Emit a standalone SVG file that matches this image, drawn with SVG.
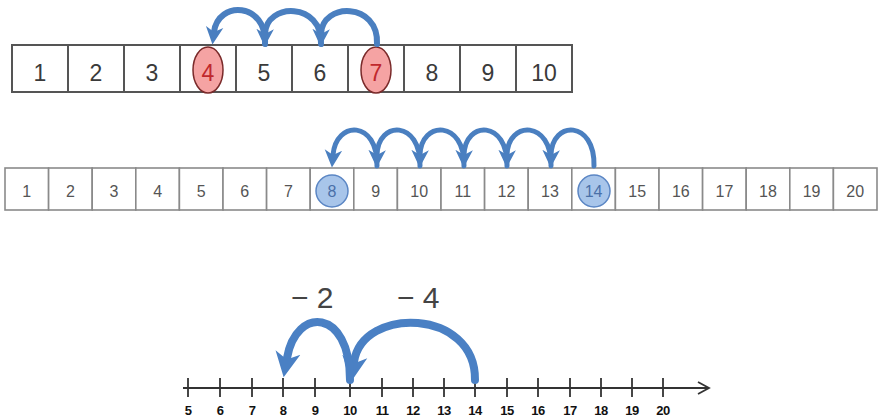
<svg xmlns="http://www.w3.org/2000/svg" width="879" height="420" viewBox="0 0 879 420">
<style>
.cell1{fill:#fff;stroke:#555;stroke-width:2}
.cell2{fill:#fff;stroke:#8a8a8a;stroke-width:1.6}
.t1{font-family:"Liberation Sans",Arial,sans-serif;font-size:23px;fill:#3a3a3a;text-anchor:middle}
.t2{font-family:"Liberation Sans",Arial,sans-serif;font-size:16px;fill:#555;text-anchor:middle}
.t3{font-family:"Liberation Sans",Arial,sans-serif;font-size:13px;font-weight:bold;fill:#111;text-anchor:middle;letter-spacing:-0.5px}
.lab{font-family:"Liberation Sans",Arial,sans-serif;font-size:30px;fill:#444}
.arc1{fill:none;stroke:#4a7fc0;stroke-width:6;stroke-linecap:round}
.arc2{fill:none;stroke:#4a7fc0;stroke-width:5;stroke-linecap:round}
.arc3{fill:none;stroke:#4a80c4;stroke-width:8;stroke-linecap:round}
.tick{stroke:#333;stroke-width:1.8}
</style>
<defs>
<marker id="ah" markerUnits="userSpaceOnUse" markerWidth="20" markerHeight="20" refX="4" refY="8" orient="auto" viewBox="0 0 16 16">
<path d="M0,1 L14,8 L0,15 L4,8 Z" fill="#4a7fc0"/>
</marker>
<marker id="ah3" markerUnits="userSpaceOnUse" markerWidth="28" markerHeight="28" refX="4" refY="10" orient="auto" viewBox="0 0 20 20">
<path d="M0,1 L18,10 L0,19 L5,10 Z" fill="#4a80c4"/>
</marker>
<marker id="axis" markerUnits="userSpaceOnUse" markerWidth="16" markerHeight="16" refX="12" refY="8" orient="auto" viewBox="0 0 16 16">
<path d="M2,2 L13,8 L2,14" fill="none" stroke="#333" stroke-width="1.8"/>
</marker>
</defs>

<g id="row1">
<rect class="cell1" x="12" y="45" width="56" height="47"/>
<rect class="cell1" x="68" y="45" width="56" height="47"/>
<rect class="cell1" x="124" y="45" width="56" height="47"/>
<rect class="cell1" x="180" y="45" width="56" height="47"/>
<rect class="cell1" x="236" y="45" width="56" height="47"/>
<rect class="cell1" x="292" y="45" width="56" height="47"/>
<rect class="cell1" x="348" y="45" width="56" height="47"/>
<rect class="cell1" x="404" y="45" width="56" height="47"/>
<rect class="cell1" x="460" y="45" width="56" height="47"/>
<rect class="cell1" x="516" y="45" width="56" height="47"/>
<ellipse cx="208" cy="70" rx="15" ry="23" fill="#f5a3a3" stroke="#7a2a2a" stroke-width="1.5"/>
<ellipse cx="376" cy="70" rx="15" ry="23" fill="#f5a3a3" stroke="#7a2a2a" stroke-width="1.5"/>
<text class="t1" x="40" y="81">1</text>
<text class="t1" x="96" y="81">2</text>
<text class="t1" x="152" y="81">3</text>
<text class="t1" x="208" y="81" style="fill:#c0282d">4</text>
<text class="t1" x="264" y="81">5</text>
<text class="t1" x="320" y="81">6</text>
<text class="t1" x="376" y="81" style="fill:#c0282d">7</text>
<text class="t1" x="432" y="81">8</text>
<text class="t1" x="488" y="81">9</text>
<text class="t1" x="544" y="81">10</text>
</g>

<g id="row2">
<rect class="cell2" x="5" y="168" width="43.6" height="42"/>
<rect class="cell2" x="48.6" y="168" width="43.6" height="42"/>
<rect class="cell2" x="92.2" y="168" width="43.6" height="42"/>
<rect class="cell2" x="135.8" y="168" width="43.6" height="42"/>
<rect class="cell2" x="179.4" y="168" width="43.6" height="42"/>
<rect class="cell2" x="223" y="168" width="43.6" height="42"/>
<rect class="cell2" x="266.6" y="168" width="43.6" height="42"/>
<rect class="cell2" x="310.2" y="168" width="43.6" height="42"/>
<rect class="cell2" x="353.8" y="168" width="43.6" height="42"/>
<rect class="cell2" x="397.4" y="168" width="43.6" height="42"/>
<rect class="cell2" x="441" y="168" width="43.6" height="42"/>
<rect class="cell2" x="484.6" y="168" width="43.6" height="42"/>
<rect class="cell2" x="528.2" y="168" width="43.6" height="42"/>
<rect class="cell2" x="571.8" y="168" width="43.6" height="42"/>
<rect class="cell2" x="615.4" y="168" width="43.6" height="42"/>
<rect class="cell2" x="659" y="168" width="43.6" height="42"/>
<rect class="cell2" x="702.6" y="168" width="43.6" height="42"/>
<rect class="cell2" x="746.2" y="168" width="43.6" height="42"/>
<rect class="cell2" x="789.8" y="168" width="43.6" height="42"/>
<rect class="cell2" x="833.4" y="168" width="43.6" height="42"/>
<circle cx="332" cy="191" r="16" fill="#a8c5ea" stroke="#5b86c4" stroke-width="1.5"/>
<circle cx="594" cy="191" r="16" fill="#a8c5ea" stroke="#5b86c4" stroke-width="1.5"/>
<text class="t2" x="26.8" y="197">1</text>
<text class="t2" x="70.4" y="197">2</text>
<text class="t2" x="114" y="197">3</text>
<text class="t2" x="157.6" y="197">4</text>
<text class="t2" x="201.2" y="197">5</text>
<text class="t2" x="244.8" y="197">6</text>
<text class="t2" x="288.4" y="197">7</text>
<text class="t2" x="332" y="197" style="fill:#4a70a8">8</text>
<text class="t2" x="375.6" y="197">9</text>
<text class="t2" x="419.2" y="197">10</text>
<text class="t2" x="462.8" y="197">11</text>
<text class="t2" x="506.4" y="197">12</text>
<text class="t2" x="550" y="197">13</text>
<text class="t2" x="593.6" y="197" style="fill:#4a70a8">14</text>
<text class="t2" x="637.2" y="197">15</text>
<text class="t2" x="680.8" y="197">16</text>
<text class="t2" x="724.4" y="197">17</text>
<text class="t2" x="768" y="197">18</text>
<text class="t2" x="811.6" y="197">19</text>
<text class="t2" x="855.2" y="197">20</text>
</g>

<g id="numberline">
<line x1="183" y1="388" x2="708" y2="388" stroke="#333" stroke-width="1.8" marker-end="url(#axis)"/>
<g class="tick">
<line x1="188" y1="378" x2="188" y2="397"/>
<line x1="220" y1="378" x2="220" y2="397"/>
<line x1="252" y1="378" x2="252" y2="397"/>
<line x1="283" y1="378" x2="283" y2="397"/>
<line x1="315" y1="378" x2="315" y2="397"/>
<line x1="350" y1="378" x2="350" y2="397"/>
<line x1="382" y1="378" x2="382" y2="397"/>
<line x1="413" y1="378" x2="413" y2="397"/>
<line x1="444" y1="378" x2="444" y2="397"/>
<line x1="475" y1="378" x2="475" y2="397"/>
<line x1="507" y1="378" x2="507" y2="397"/>
<line x1="538" y1="378" x2="538" y2="397"/>
<line x1="570" y1="378" x2="570" y2="397"/>
<line x1="601" y1="378" x2="601" y2="397"/>
<line x1="632" y1="378" x2="632" y2="397"/>
<line x1="663" y1="378" x2="663" y2="397"/>
</g>
<text class="t3" x="188" y="415">5</text>
<text class="t3" x="220" y="415">6</text>
<text class="t3" x="252" y="415">7</text>
<text class="t3" x="283" y="415">8</text>
<text class="t3" x="315" y="415">9</text>
<text class="t3" x="350" y="415">10</text>
<text class="t3" x="382" y="415">11</text>
<text class="t3" x="413" y="415">12</text>
<text class="t3" x="444" y="415">13</text>
<text class="t3" x="475" y="415">14</text>
<text class="t3" x="507" y="415">15</text>
<text class="t3" x="538" y="415">16</text>
<text class="t3" x="570" y="415">17</text>
<text class="t3" x="601" y="415">18</text>
<text class="t3" x="632" y="415">19</text>
<text class="t3" x="663" y="415">20</text>
<text class="lab" x="291" y="308">− 2</text>
<text class="lab" x="397" y="308">− 4</text>
</g>

<g id="connectors">
<path class="arc1" d="M377,44 C379,2 322,2 321,34" marker-end="url(#ah)"/>
<path class="arc1" d="M321,44 C323,2 266,2 265,34" marker-end="url(#ah)"/>
<path class="arc1" d="M265,44 C267,2 218,0 214,32" marker-end="url(#ah)"/>
<path class="arc2" d="M594,166 C595,120 552,120 551,155" marker-end="url(#ah)"/>
<path class="arc2" d="M551,166 C552,120 508,120 507,155" marker-end="url(#ah)"/>
<path class="arc2" d="M507,166 C508,120 465,120 464,155" marker-end="url(#ah)"/>
<path class="arc2" d="M464,166 C465,120 421,120 420,155" marker-end="url(#ah)"/>
<path class="arc2" d="M420,166 C421,120 378,120 377,155" marker-end="url(#ah)"/>
<path class="arc2" d="M377,166 C378,120 336,120 333,155" marker-end="url(#ah)"/>
<path class="arc3" d="M475,380 C476,308 362,306 354,362" marker-end="url(#ah3)"/>
<path class="arc3" d="M350,380 C350,308 296,306 287,358" marker-end="url(#ah3)"/>
</g>
</svg>
